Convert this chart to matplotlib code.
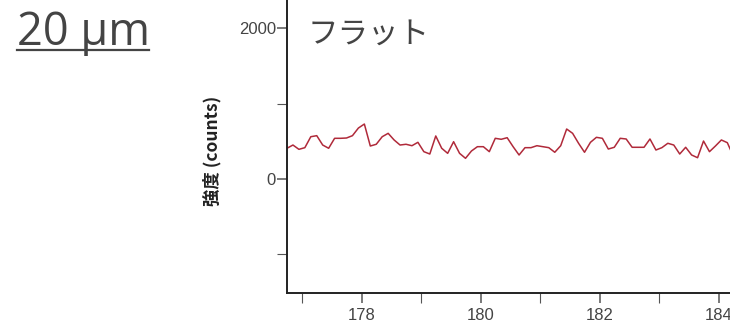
import numpy as np
import matplotlib
matplotlib.use("Agg")
import matplotlib.pyplot as plt
from matplotlib.lines import Line2D

# Raman shift sampling (start, step) and measured intensity
shift_start = 176.74
shift_step = 0.1
intensity = [
    407, 450, 393, 415, 560, 574, 450, 407, 539, 539,
    543, 574, 675, 728, 437, 460, 560, 605, 517, 450,
    460, 441, 486, 362, 331, 570, 407, 340, 494, 340,
    274, 371, 428, 428, 362, 539, 526, 547, 428, 318,
    415, 415, 441, 428, 415, 354, 441, 662, 605, 473,
    354, 486, 552, 539, 397, 420, 539, 530, 420, 420,
    420, 530, 384, 415, 473, 450, 331, 420, 318, 282,
    503, 362, 437, 517, 481, 305,
]
shift = shift_start + shift_step * np.arange(len(intensity))

x_major = [178, 180, 182, 184]
x_minor = [177, 179, 181, 183]
y_major = [0, 2000]
y_minor = [-1000, 1000]

title_text = "フラット"
ylabel_text = "強度 (counts)"
scale_text = "20 µm"

W, H = 730, 328
fig = plt.figure(figsize=(W / 100, H / 100), dpi=100)
fig.patch.set_facecolor("white")

left, bottom = 287 / W, (H - 293) / H
ax = fig.add_axes([left, bottom, 1 - left, 1 - bottom])
ax.plot(shift, intensity, color="#b02a3a", lw=1.1)

ax.set_xlim(176.74, 184.185)
ax.set_ylim(-1510, 2371)

for s in ("top", "right"):
    ax.spines[s].set_visible(False)
for s in ("left", "bottom"):
    ax.spines[s].set_linewidth(1.4)
    ax.spines[s].set_color("#222222")

ax.set_xticks(x_major)
ax.set_xticks(x_minor, minor=True)
ax.set_yticks(y_major)
ax.set_yticks(y_minor, minor=True)
ax.tick_params(which="both", direction="out", length=7, color="#555555")
ax.tick_params(which="major", width=1.1)
ax.tick_params(which="minor", width=0.8)
ax.tick_params(axis="x", labelsize=12, labelcolor="#444444", pad=4)
ax.tick_params(axis="y", labelsize=12, labelcolor="#444444", pad=1)
for lab in ax.get_xticklabels() + ax.get_yticklabels():
    lab.set_fontfamily("Liberation Sans")

ax.text(308 / W, 1 - 34 / H, title_text, transform=fig.transFigure,
        ha="left", va="center", fontsize=22, color="#444444",
        family=["Noto Sans CJK JP", "DejaVu Sans"])

fig.text(212 / W, 1 - 151 / H, ylabel_text, rotation=90,
         ha="center", va="center", fontsize=12.5, fontweight="bold",
         color="#222222", family=["Noto Sans CJK JP", "DejaVu Sans"])

fig.text(17 / W, 1 - 45 / H, scale_text, ha="left", va="baseline",
         fontsize=32.5, color="#444444", family=["Open Sans", "DejaVu Sans"])
fig.add_artist(Line2D([17 / W, 149 / W], [1 - 50 / H, 1 - 50 / H],
                      transform=fig.transFigure, color="#444444", lw=1.6))

fig.savefig("out.png", dpi=100, facecolor="white")
